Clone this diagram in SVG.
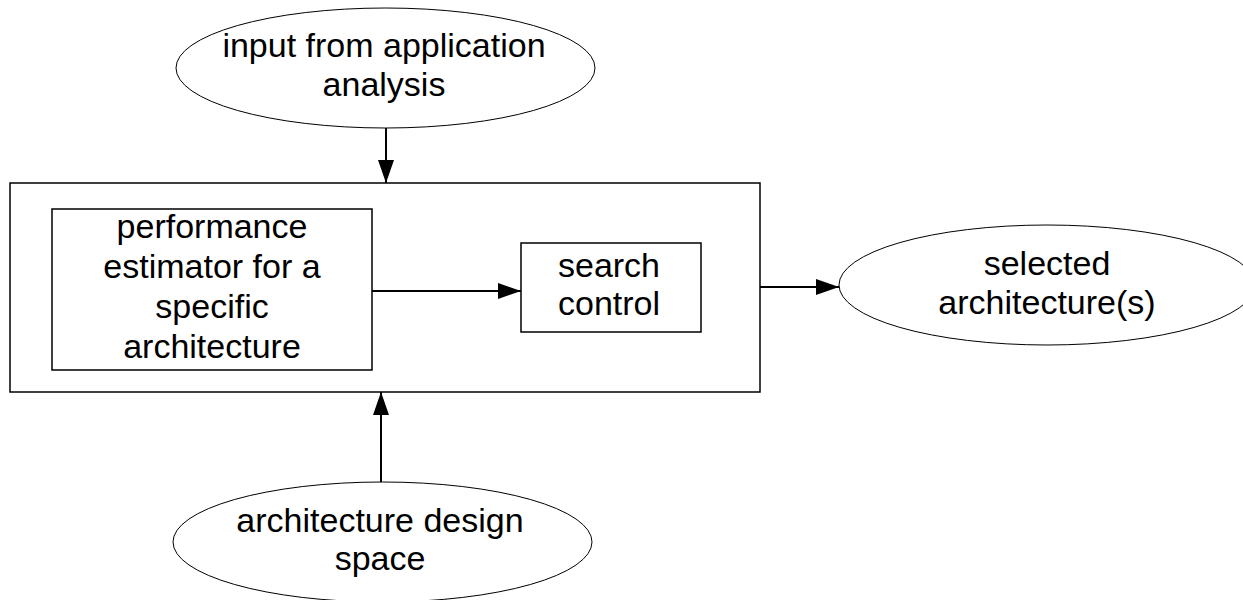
<svg xmlns="http://www.w3.org/2000/svg" width="1243" height="600" viewBox="0 0 1243 600">
  <style>
    .bg { fill: #ffffff; }
    .oval { fill: #ffffff; stroke: #000000; stroke-width: 1; }
    .box { fill: #ffffff; stroke: #000000; stroke-width: 1.5; }
    .frame { fill: none; stroke: #000000; stroke-width: 1.5; }
    .label { font-family: "Liberation Sans", Arial, sans-serif; font-size: 34px; fill: #000000; text-anchor: middle; }
    .edge { fill: none; stroke: #000000; stroke-width: 2; }
  </style>
  <defs>
    <marker id="arrow" markerUnits="userSpaceOnUse" markerWidth="24" markerHeight="18" refX="23" refY="8" orient="auto">
      <path d="M0,0 L23,8 L0,16 Z" fill="#000000"/>
    </marker>
  </defs>

  <rect class="bg" x="0" y="0" width="1243" height="600"/>

  <!-- enclosing frame around the estimator and search control -->
  <g id="exploration-frame">
    <rect class="frame" x="10" y="183" width="750" height="209"/>
  </g>

  <g id="input-analysis">
    <ellipse class="oval" cx="385.5" cy="68" rx="209.5" ry="60"/>
    <text class="label" x="384" y="57">input from application</text>
    <text class="label" x="384" y="96">analysis</text>
  </g>

  <g id="performance-estimator">
    <rect class="box" x="52" y="209" width="320" height="161"/>
    <text class="label" x="212" y="238">performance</text>
    <text class="label" x="212" y="278">estimator for a</text>
    <text class="label" x="212" y="318">specific</text>
    <text class="label" x="212" y="358">architecture</text>
  </g>

  <g id="search-control">
    <rect class="box" x="521" y="243" width="180" height="89"/>
    <text class="label" x="609" y="277">search</text>
    <text class="label" x="609" y="315">control</text>
  </g>

  <g id="selected-architectures">
    <ellipse class="oval" cx="1047" cy="285" rx="208" ry="60"/>
    <text class="label" x="1047" y="275">selected</text>
    <text class="label" x="1047" y="314">architecture(s)</text>
  </g>

  <g id="design-space">
    <ellipse class="oval" cx="382.5" cy="542" rx="209.5" ry="60"/>
    <text class="label" x="380" y="532">architecture design</text>
    <text class="label" x="380" y="570">space</text>
  </g>

  <g id="connectors">
    <line class="edge" x1="386" y1="128" x2="386" y2="183" marker-end="url(#arrow)"/>
    <line class="edge" x1="372" y1="291" x2="521" y2="291" marker-end="url(#arrow)"/>
    <line class="edge" x1="760" y1="287" x2="839" y2="287" marker-end="url(#arrow)"/>
    <line class="edge" x1="381" y1="482" x2="381" y2="392" marker-end="url(#arrow)"/>
  </g>
</svg>
